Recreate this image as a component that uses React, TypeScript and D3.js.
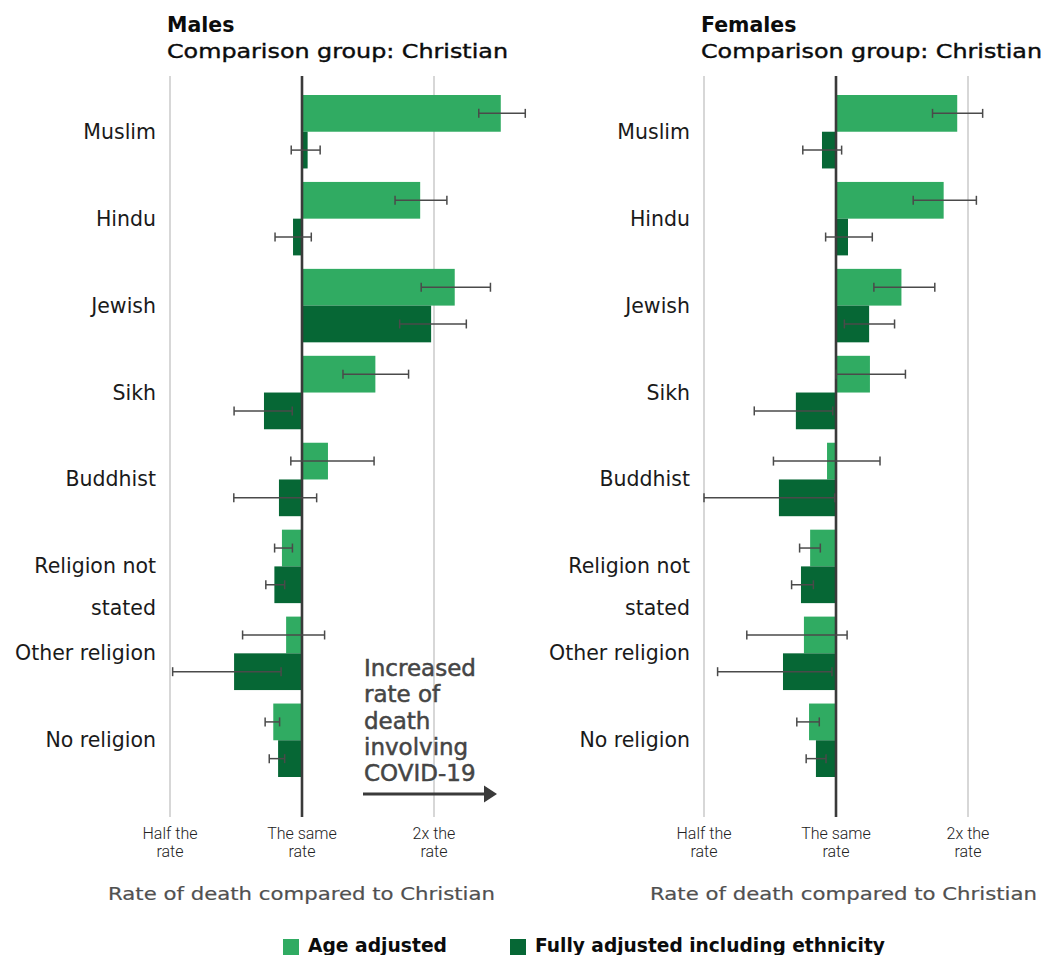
import React from "react";
import * as d3 from "d3";

const categories = ["Muslim", "Hindu", "Jewish", "Sikh", "Buddhist", "Religion not stated", "Other religion", "No religion"];
const categoryLines = [["Muslim"], ["Hindu"], ["Jewish"], ["Sikh"], ["Buddhist"], ["Religion not", "stated"], ["Other religion"], ["No religion"]];

const maleAge = [2.84, 1.86, 2.23, 1.47, 1.146, 0.9, 0.92, 0.86];
const maleAgeLow = [2.53, 1.63, 1.87, 1.24, 0.943, 0.866, 0.732, 0.824];
const maleAgeHigh = [3.23, 2.14, 2.69, 1.75, 1.46, 0.951, 1.126, 0.889];
const maleFull = [1.03, 0.954, 1.97, 0.819, 0.886, 0.865, 0.7, 0.882];
const maleFullLow = [0.945, 0.868, 1.67, 0.7, 0.699, 0.827, 0.507, 0.842];
const maleFullHigh = [1.1, 1.05, 2.37, 0.95, 1.08, 0.913, 0.896, 0.913];

const femaleAge = [1.89, 1.76, 1.41, 1.195, 0.954, 0.873, 0.845, 0.868];
const femaleAgeLow = [1.66, 1.5, 1.22, 1.0, 0.72, 0.826, 0.626, 0.814];
const femaleAgeHigh = [2.16, 2.09, 1.68, 1.44, 1.26, 0.921, 1.06, 0.916];
const femaleFull = [0.929, 1.065, 1.19, 0.81, 0.741, 0.832, 0.757, 0.9];
const femaleFullLow = [0.84, 0.947, 1.045, 0.651, 0.5, 0.792, 0.537, 0.855];
const femaleFullHigh = [1.03, 1.21, 1.36, 0.983, 0.993, 0.888, 0.979, 0.949];

const tickValues = [0.5, 1, 2];
const tickLabels = [["Half the", "rate"], ["The same", "rate"], ["2x the", "rate"]];

const seriesNames = ["Age adjusted", "Fully adjusted including ethnicity"];
const colors = ["#30ab62", "#066735"];

const FONT = "'DejaVu Sans', Verdana, sans-serif";
const TICKFONT = "Roboto, 'Liberation Sans', sans-serif";

const y = d3.scaleBand<string>().domain(categories).range([95, 777]).paddingInner(0.155).paddingOuter(0);

type PanelProps = {
  x0: number;
  title: string;
  age: number[]; ageLow: number[]; ageHigh: number[];
  full: number[]; fullLow: number[]; fullHigh: number[];
  labelX: number;
  axisTitleX: number;
};

function Panel(p: PanelProps) {
  const x = d3.scaleLog().base(2).domain([0.5, 2]).range([p.x0, p.x0 + 264]);
  const bw = y.bandwidth() / 2;
  const series = [
    { v: p.age, lo: p.ageLow, hi: p.ageHigh, off: 0, c: colors[0] },
    { v: p.full, lo: p.fullLow, hi: p.fullHigh, off: bw, c: colors[1] },
  ];
  return (
    <g>
      <text x={p.x0 - 3} y={32} fontFamily={FONT} fontWeight="bold" fontSize={20.5} fill="#0b0c0c">{p.title}</text>
      <text x={p.x0 - 3} y={58} fontFamily={FONT} fontSize={20} fill="#0b0c0c" stroke="#0b0c0c" strokeWidth={0.4} textLength={341} lengthAdjust="spacingAndGlyphs">Comparison group: Christian</text>
      {tickValues.map((t, i) => i !== 1 && (
        <line key={"g" + i} x1={x(t)} x2={x(t)} y1={76} y2={817} stroke="#bdbdbd" strokeWidth={1.2} />
      ))}
      {series.map((s, si) => categories.map((c, i) => {
        const a = x(1), b = x(s.v[i]);
        return <rect key={si + "-" + i} x={Math.min(a, b)} y={(y(c) as number) + s.off} width={Math.abs(b - a)} height={bw} fill={s.c} />;
      }))}
      <line x1={x(1)} x2={x(1)} y1={76} y2={817} stroke="#3a3a3a" strokeWidth={2.6} />
      {series.map((s, si) => categories.map((c, i) => {
        const cy = (y(c) as number) + s.off + bw / 2;
        const l = x(s.lo[i]), h = x(s.hi[i]);
        return (
          <g key={"e" + si + "-" + i} stroke="#4a4a4a" strokeWidth={1.5}>
            <line x1={l} x2={h} y1={cy} y2={cy} />
            <line x1={l} x2={l} y1={cy - 4.5} y2={cy + 4.5} />
            <line x1={h} x2={h} y1={cy - 4.5} y2={cy + 4.5} />
          </g>
        );
      }))}
      {categories.map((c, i) => {
        const cy = (y(c) as number) + y.bandwidth() / 2;
        return (
          <text key={"l" + i} x={p.labelX} y={cy + 7} textAnchor="end" fontFamily={FONT} fontSize={20.5} fill="#1a1a1a">
            {categoryLines[i].map((ln, j) => (
              <tspan key={j} x={p.labelX} dy={j === 0 ? 0 : 42}>{ln}</tspan>
            ))}
          </text>
        );
      })}
      {tickValues.map((t, i) => (
        <text key={"t" + i} x={x(t)} y={839} textAnchor="middle" fontFamily={TICKFONT} fontWeight={300} fontSize={16} fill="#222">
          <tspan x={x(t)} dy={0}>{tickLabels[i][0]}</tspan>
          <tspan x={x(t)} dy={18}>{tickLabels[i][1]}</tspan>
        </text>
      ))}
      <text x={p.axisTitleX} y={900} fontFamily={FONT} fontSize={18} fill="#505050" stroke="#505050" strokeWidth={0.2} textLength={387} lengthAdjust="spacingAndGlyphs">Rate of death compared to Christian</text>
    </g>
  );
}

export default function App() {
  const annLines = ["Increased", "rate of", "death", "involving", "COVID-19"];
  return (
    <svg width={1045} height={955} style={{ position: "absolute", left: 0, top: 0, background: "#fff" }}>
      <Panel x0={170} title="Males" age={maleAge} ageLow={maleAgeLow} ageHigh={maleAgeHigh}
        full={maleFull} fullLow={maleFullLow} fullHigh={maleFullHigh} labelX={156} axisTitleX={108} />
      <Panel x0={704} title="Females" age={femaleAge} ageLow={femaleAgeLow} ageHigh={femaleAgeHigh}
        full={femaleFull} fullLow={femaleFullLow} fullHigh={femaleFullHigh} labelX={690} axisTitleX={650} />
      <text x={364} y={676} fontFamily={FONT} fontSize={23} fill="#454545" stroke="#454545" strokeWidth={0.5}>
        {annLines.map((ln, j) => (
          <tspan key={j} x={364} dy={j === 0 ? 0 : 26.3}>{ln}</tspan>
        ))}
      </text>
      <line x1={363} x2={486} y1={794} y2={794} stroke="#3a3a3a" strokeWidth={3} />
      <path d="M484,785.5 L497,794 L484,802.5 Z" fill="#3a3a3a" />
      <g>
        <rect x={283} y={939} width={16} height={16} fill={colors[0]} />
        <text x={308} y={952} fontFamily={FONT} fontWeight="bold" fontSize={19} fill="#0b0c0c" textLength={139} lengthAdjust="spacingAndGlyphs">{seriesNames[0]}</text>
        <rect x={510} y={939} width={16} height={16} fill={colors[1]} />
        <text x={535} y={952} fontFamily={FONT} fontWeight="bold" fontSize={19} fill="#0b0c0c" textLength={350} lengthAdjust="spacingAndGlyphs">{seriesNames[1]}</text>
      </g>
    </svg>
  );
}
